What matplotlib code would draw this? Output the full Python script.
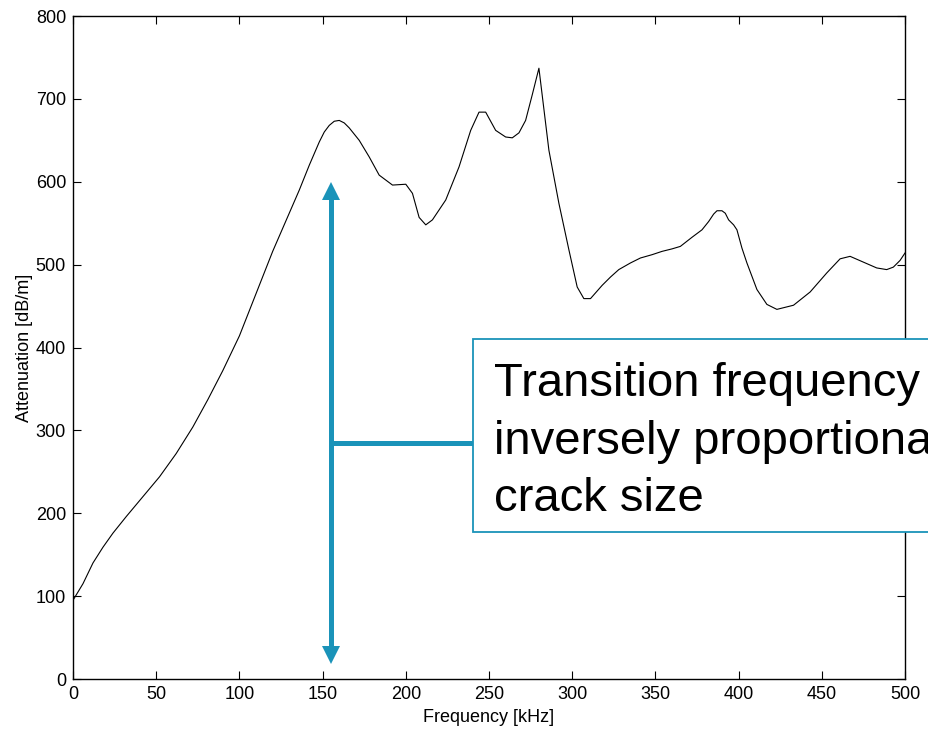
import matplotlib
matplotlib.use("Agg")
import matplotlib.pyplot as plt
from matplotlib.patches import Rectangle

plt.rcParams["font.family"] = ["Liberation Sans", "DejaVu Sans"]

# curve
freq = [0, 6, 12, 18, 24, 32, 42, 52, 62, 72, 81, 90, 100, 110, 120, 128, 136,
        142, 148, 151, 154, 157, 160, 163, 166, 172, 178, 184, 192, 200, 204,
        208, 212, 216, 224, 232, 239, 244, 248, 254, 260, 264, 268, 272, 276,
        280, 286, 292, 298, 303, 307, 311, 318, 323, 328, 335, 341, 348, 354,
        360, 365, 372, 378, 382, 385, 387, 390, 392, 394, 397, 399, 402, 405,
        411, 417, 423, 433, 443, 453, 461, 467, 475, 483, 489, 493, 497, 500]
atten = [95, 115, 140, 159, 176, 196, 220, 244, 272, 304, 337, 372, 414, 465,
         516, 553, 590, 620, 648, 660, 668, 673, 674, 671, 665, 650, 630, 608,
         596, 597, 586, 557, 548, 554, 578, 618, 662, 684, 684, 662, 654, 653,
         659, 674, 705, 737, 638, 574, 518, 473, 459, 459, 475, 485, 494, 502,
         508, 512, 516, 519, 522, 533, 542, 552, 561, 565, 565, 562, 554, 548,
         542, 520, 502, 470, 452, 446, 451, 467, 490, 507, 510, 503, 496, 494,
         497, 505, 514]

arrow_x = 155
arrow_y = (20, 598)
branch_y = 285
box_left, box_bottom, box_top = 240.5, 177, 410
note = "Transition frequency\ninversely proportional to\ncrack size"
teal = "#1a93b9"

fig = plt.figure(figsize=(9.29, 7.29), dpi=100)
ax = fig.add_axes([73 / 929, 1 - 679 / 729, 832 / 929, 663 / 729])

ax.plot(freq, atten, color="black", lw=0.8)

ax.set_xlim(0, 500)
ax.set_ylim(0, 800)
ax.set_xticks(range(0, 501, 50))
ax.set_yticks(range(0, 801, 100))
ax.tick_params(direction="in", length=6, width=0.8, labelsize=13, pad=5,
               top=True, right=True)
for s in ax.spines.values():
    s.set_linewidth(1.0)
ax.set_xlabel("Frequency [kHz]", fontsize=13, labelpad=4)
ax.set_ylabel("Attenuation [dB/m]", fontsize=13, labelpad=2)

# double-headed arrow (shaft + triangle heads) with branch to the call-out
head = 18  # head length in data units
ax.plot([arrow_x, arrow_x], [arrow_y[0] + head, arrow_y[1] - head],
        color=teal, lw=3.6, solid_capstyle="butt")
ax.plot([arrow_x], [arrow_y[1] - head / 2], marker="^", ms=12.5,
        color=teal, mew=0, ls="none")
ax.plot([arrow_x], [arrow_y[0] + head / 2], marker="v", ms=12.5,
        color=teal, mew=0, ls="none")
ax.plot([arrow_x, box_left], [branch_y, branch_y], color=teal, lw=3.6,
        solid_capstyle="butt")

box = Rectangle((box_left, box_bottom), 400, box_top - box_bottom,
                facecolor="white", edgecolor=teal, lw=1.3, clip_on=False,
                zorder=5)
ax.add_patch(box)
ax.text(253, 382, note, fontsize=34, va="top", ha="left", linespacing=1.39,
        clip_on=False, zorder=6)

fig.savefig("out.png", dpi=100)
